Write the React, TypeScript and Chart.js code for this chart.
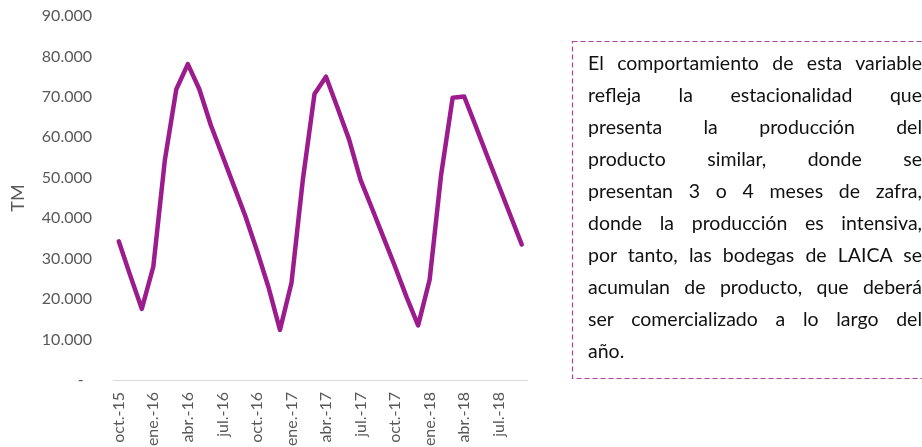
import React, { useEffect, useRef } from "react";
import { Chart, registerables } from "chart.js";

Chart.register(...registerables);

const categories = [
  "oct.-15", "nov.-15", "dic.-15", "ene.-16", "feb.-16", "mar.-16",
  "abr.-16", "may.-16", "jun.-16", "jul.-16", "ago.-16", "sep.-16",
  "oct.-16", "nov.-16", "dic.-16", "ene.-17", "feb.-17", "mar.-17",
  "abr.-17", "may.-17", "jun.-17", "jul.-17", "ago.-17", "sep.-17",
  "oct.-17", "nov.-17", "dic.-17", "ene.-18", "feb.-18", "mar.-18",
  "abr.-18", "may.-18", "jun.-18", "jul.-18", "ago.-18", "sep.-18",
];

const tmValues = [
  34300, 25800, 17600, 28000, 54300, 71900,
  78100, 71900, 63000, 55500, 48000, 40500,
  32000, 23000, 12400, 24000, 49800, 70700,
  75000, 67300, 59500, 49500, 42400, 35200,
  28000, 20500, 13500, 24800, 50800, 69800,
  70100, 62800, 55400, 48100, 40800, 33500,
];

const yMin = 0;
const yMax = 90000;
const yStep = 10000;
const labelEvery = 3;
const yTitle = "TM";

const noteLines = [
  "El comportamiento de esta variable",
  "refleja la estacionalidad que",
  "presenta la producción del",
  "producto similar, donde se",
  "presentan 3 o 4 meses de zafra,",
  "donde la producción es intensiva,",
  "por tanto, las bodegas de LAICA se",
  "acumulan de producto, que deberá",
  "ser comercializado a lo largo del",
  "año.",
];

const fmt = (v: number) =>
  v === 0 ? "-  " : String(v).replace(/\B(?=(\d{3})+(?!\d))/g, ".");

export default function App() {
  const ref = useRef<HTMLCanvasElement>(null);

  useEffect(() => {
    if (!ref.current) return;
    const chart = new Chart(ref.current, {
      type: "line",
      data: {
        labels: categories,
        datasets: [
          {
            data: tmValues,
            borderColor: "#9C1C8E",
            backgroundColor: "#9C1C8E",
            borderWidth: 4.5,
            pointRadius: 0,
            tension: 0,
            fill: false,
            borderJoinStyle: "round",
            borderCapStyle: "round",
          },
        ],
      },
      options: {
        responsive: false,
        animation: false,
        devicePixelRatio: 1,
        layout: { padding: { left: 0, right: 32.5, top: 16, bottom: 0 } },
        plugins: {
          legend: { display: false },
          tooltip: { enabled: false },
        },
        scales: {
          x: {
            type: "category",
            offset: true,
            grid: { display: false, drawTicks: false },
            border: { display: true, color: "#d9d9d9", width: 1 },
            ticks: {
              autoSkip: false,
              maxRotation: 90,
              minRotation: 90,
              padding: 12,
              color: "#595959",
              font: { family: "Lato", size: 16 },
              callback: (_v: any, i: number) =>
                i % labelEvery === 0 ? categories[i] : "",
            },
            afterFit: (s: any) => {
              s.height = 67;
              s.paddingLeft = 0;
              s.paddingRight = 0;
              s.paddingTop = 0;
              s.paddingBottom = 0;
            },
          },
          y: {
            min: yMin,
            max: yMax,
            grid: { display: false, drawTicks: false },
            border: { display: false },
            ticks: {
              stepSize: yStep,
              padding: 21,
              color: "#595959",
              font: { family: "Lato", size: 16 },
              callback: (v: any) => fmt(Number(v)),
            },
            title: {
              display: true,
              text: yTitle,
              color: "#595959",
              font: { family: "Lato", size: 18 },
              padding: { top: 7, bottom: 0 },
            },
            afterFit: (s: any) => {
              s.width = 113;
              s.paddingTop = 0;
              s.paddingBottom = 0;
            },
          },
        },
      },
    });
    return () => chart.destroy();
  }, []);

  return (
    <div
      style={{
        position: "fixed",
        left: 0,
        top: 0,
        width: 922,
        height: 447,
        overflow: "hidden",
        background: "#fff",
      }}
    >
      <canvas
        ref={ref}
        width={560}
        height={447}
        style={{ position: "absolute", left: 0, top: 0 }}
      />
      <svg
        width={922}
        height={447}
        style={{ position: "absolute", left: 0, top: 0 }}
      >
        <rect
          x={572.5}
          y={41.5}
          width={380}
          height={337}
          fill="none"
          stroke="#B0449F"
          strokeWidth={1.2}
          strokeDasharray="5 3"
        />
      </svg>
      <div
        style={{
          position: "absolute",
          left: 588,
          top: 47,
          width: 334,
          fontFamily: "Lato",
          fontSize: 19.5,
          lineHeight: "32px",
          color: "#111",
        }}
      >
        {noteLines.map((line, i) => (
          <div
            key={i}
            style={{
              textAlign: i === noteLines.length - 1 ? "left" : "justify",
              textAlignLast: i === noteLines.length - 1 ? "left" : "justify",
              whiteSpace: "nowrap",
            }}
          >
            {line}
          </div>
        ))}
      </div>
    </div>
  );
}
